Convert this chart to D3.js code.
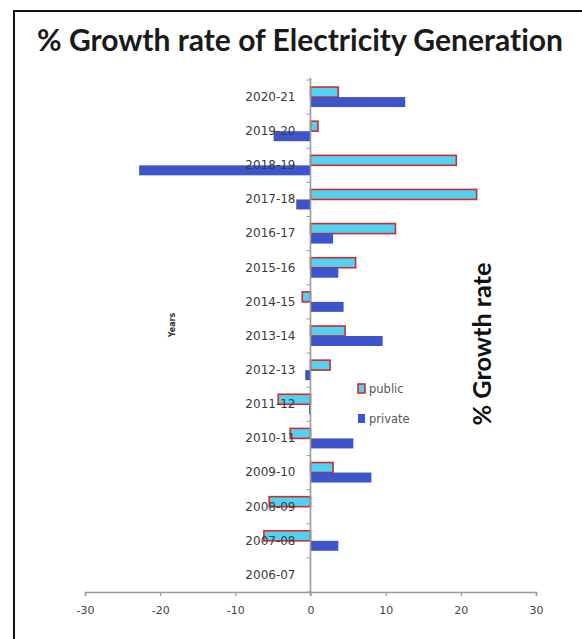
<!DOCTYPE html>
<html>
<head>
<meta charset="utf-8">
<script src="https://cdn.jsdelivr.net/npm/d3@7"></script>
<style>
  html, body { margin: 0; padding: 0; background: #fff; }
  svg { display: block; }
  text { font-variant-ligatures: none; }
</style>
</head>
<body>
<svg id="chart" width="582" height="639"></svg>
<script>
// ---- data ----
const years = ["2020-21","2019-20","2018-19","2017-18","2016-17","2015-16","2014-15",
               "2013-14","2012-13","2011-12","2010-11","2009-10","2008-09","2007-08","2006-07"];
const publicGrowth  = [3.7, 1.0, 19.4, 22.1, 11.3, 6.0, -1.1, 4.6, 2.6, -4.3, -2.7, 3.0, -5.5, -6.2, 0];
const privateGrowth = [12.6, -4.9, -22.8, -1.9, 3.0, 3.7, 4.4, 9.6, -0.7, -0.2, 5.7, 8.1, 0, 3.7, 0];
const xTicks = [-30, -20, -10, 0, 10, 20, 30];
const seriesNames = ["public", "private"];
const titleText = "% Growth rate of Electricity Generation";
const xTitleText = "% Growth rate";
const yTitleText = "Years";

// ---- layout ----
const svg = d3.select("#chart");
const plot = { left: 85, right: 536, top: 80, bottom: 592 };

const x = d3.scaleLinear().domain([-30, 30]).range([plot.left, plot.right]);
const y = d3.scaleBand().domain(years).range([plot.top, plot.bottom]).paddingInner(0).paddingOuter(0);
const barH = 10;

const publicFill = "#52d2f2", publicStroke = "#d42a2a", privateFill = "#3d55c9";

function fitText(sel, width) {
  let fs = parseFloat(sel.attr("font-size"));
  for (let i = 0; i < 6; i++) {
    const w = sel.node().getComputedTextLength();
    fs = fs * width / w;
    sel.attr("font-size", fs);
  }
}

// frame
svg.append("line").attr("x1", 14).attr("x2", 582).attr("y1", 11).attr("y2", 11)
  .attr("stroke", "#111").attr("stroke-width", 2);
svg.append("line").attr("x1", 14).attr("x2", 14).attr("y1", 10).attr("y2", 639)
  .attr("stroke", "#111").attr("stroke-width", 2);

// title
const title = svg.append("text").attr("x", 300).attr("y", 51)
  .attr("text-anchor", "middle").attr("font-family", "Lato, 'Open Sans', sans-serif")
  .attr("font-weight", "bold").attr("font-size", 20).attr("fill", "#1a1a1a").text(titleText);
fitText(title, 526);

// bars
const g = svg.append("g");
g.selectAll("rect.pub").data(years).join("rect").attr("class", "pub")
  .attr("x", (d, i) => Math.min(x(0), x(publicGrowth[i])))
  .attr("width", (d, i) => Math.abs(x(publicGrowth[i]) - x(0)))
  .attr("y", d => y(d) + y.bandwidth() / 2 - barH)
  .attr("height", barH)
  .attr("fill", publicFill).attr("stroke", publicStroke).attr("stroke-width", 1.6)
  .style("display", (d, i) => publicGrowth[i] === 0 ? "none" : null);

g.selectAll("rect.priv").data(years).join("rect").attr("class", "priv")
  .attr("x", (d, i) => Math.min(x(0), x(privateGrowth[i])))
  .attr("width", (d, i) => Math.abs(x(privateGrowth[i]) - x(0)))
  .attr("y", d => y(d) + y.bandwidth() / 2)
  .attr("height", barH)
  .attr("fill", privateFill)
  .style("display", (d, i) => privateGrowth[i] === 0 ? "none" : null);

// y axis at zero
const yAxis = d3.axisLeft(y).tickSize(0).tickPadding(15);
const yg = svg.append("g").attr("transform", `translate(${x(0)},0)`).call(yAxis);
yg.select(".domain").remove();
yg.selectAll("text").attr("font-family", "'DejaVu Sans', sans-serif").attr("font-size", 12).attr("fill", "#3a3a3a");
// boundary ticks
svg.append("g").selectAll("line").data(d3.range(years.length + 1)).join("line")
  .attr("x1", x(0) - 4).attr("x2", x(0))
  .attr("y1", i => plot.top + i * y.step()).attr("y2", i => plot.top + i * y.step())
  .attr("stroke", "#999").attr("stroke-width", 1);
svg.append("line").attr("x1", x(0)).attr("x2", x(0)).attr("y1", plot.top - 2).attr("y2", plot.bottom + 4)
  .attr("stroke", "#999").attr("stroke-width", 1.6);

// x axis
const xAxis = d3.axisBottom(x).tickValues(xTicks).tickFormat(d => String(d))
  .tickSize(4).tickPadding(10).tickSizeOuter(4);
const xg = svg.append("g").attr("transform", `translate(0,${plot.bottom})`).call(xAxis);
xg.select(".domain").attr("stroke", "#999").attr("stroke-width", 1.6);
xg.selectAll(".tick line").attr("stroke", "#999").attr("stroke-width", 1.2);
xg.selectAll("text").attr("font-family", "'DejaVu Sans', sans-serif").attr("font-size", 11).attr("fill", "#444");
// bring text labels above bars
yg.raise();

// axis titles
const xt = svg.append("text").attr("transform", "translate(491,344) rotate(-90)")
  .attr("text-anchor", "middle").attr("font-family", "Lato, 'Open Sans', sans-serif")
  .attr("font-weight", "bold").attr("font-size", 21).attr("fill", "#111").text(xTitleText);
fitText(xt, 163);
svg.append("text").attr("transform", "translate(175,325) rotate(-90)")
  .attr("text-anchor", "middle").attr("font-family", "'DejaVu Sans', sans-serif")
  .attr("font-weight", "bold").attr("font-size", 8).attr("fill", "#333").text(yTitleText);

// legend
const lg = svg.append("g");
const legY = [389, 419];
lg.selectAll("rect").data(seriesNames).join("rect")
  .attr("x", 358).attr("y", (d, i) => legY[i] - 5).attr("width", 7).attr("height", 9)
  .attr("fill", (d, i) => i === 0 ? publicFill : privateFill)
  .attr("stroke", (d, i) => i === 0 ? publicStroke : "none").attr("stroke-width", 1.6);
lg.selectAll("text").data(seriesNames).join("text")
  .attr("x", 369).attr("y", (d, i) => legY[i] + 4)
  .attr("font-family", "'DejaVu Sans', sans-serif").attr("font-size", 11.5).attr("fill", "#555")
  .text(d => d);
</script>
</body>
</html>
